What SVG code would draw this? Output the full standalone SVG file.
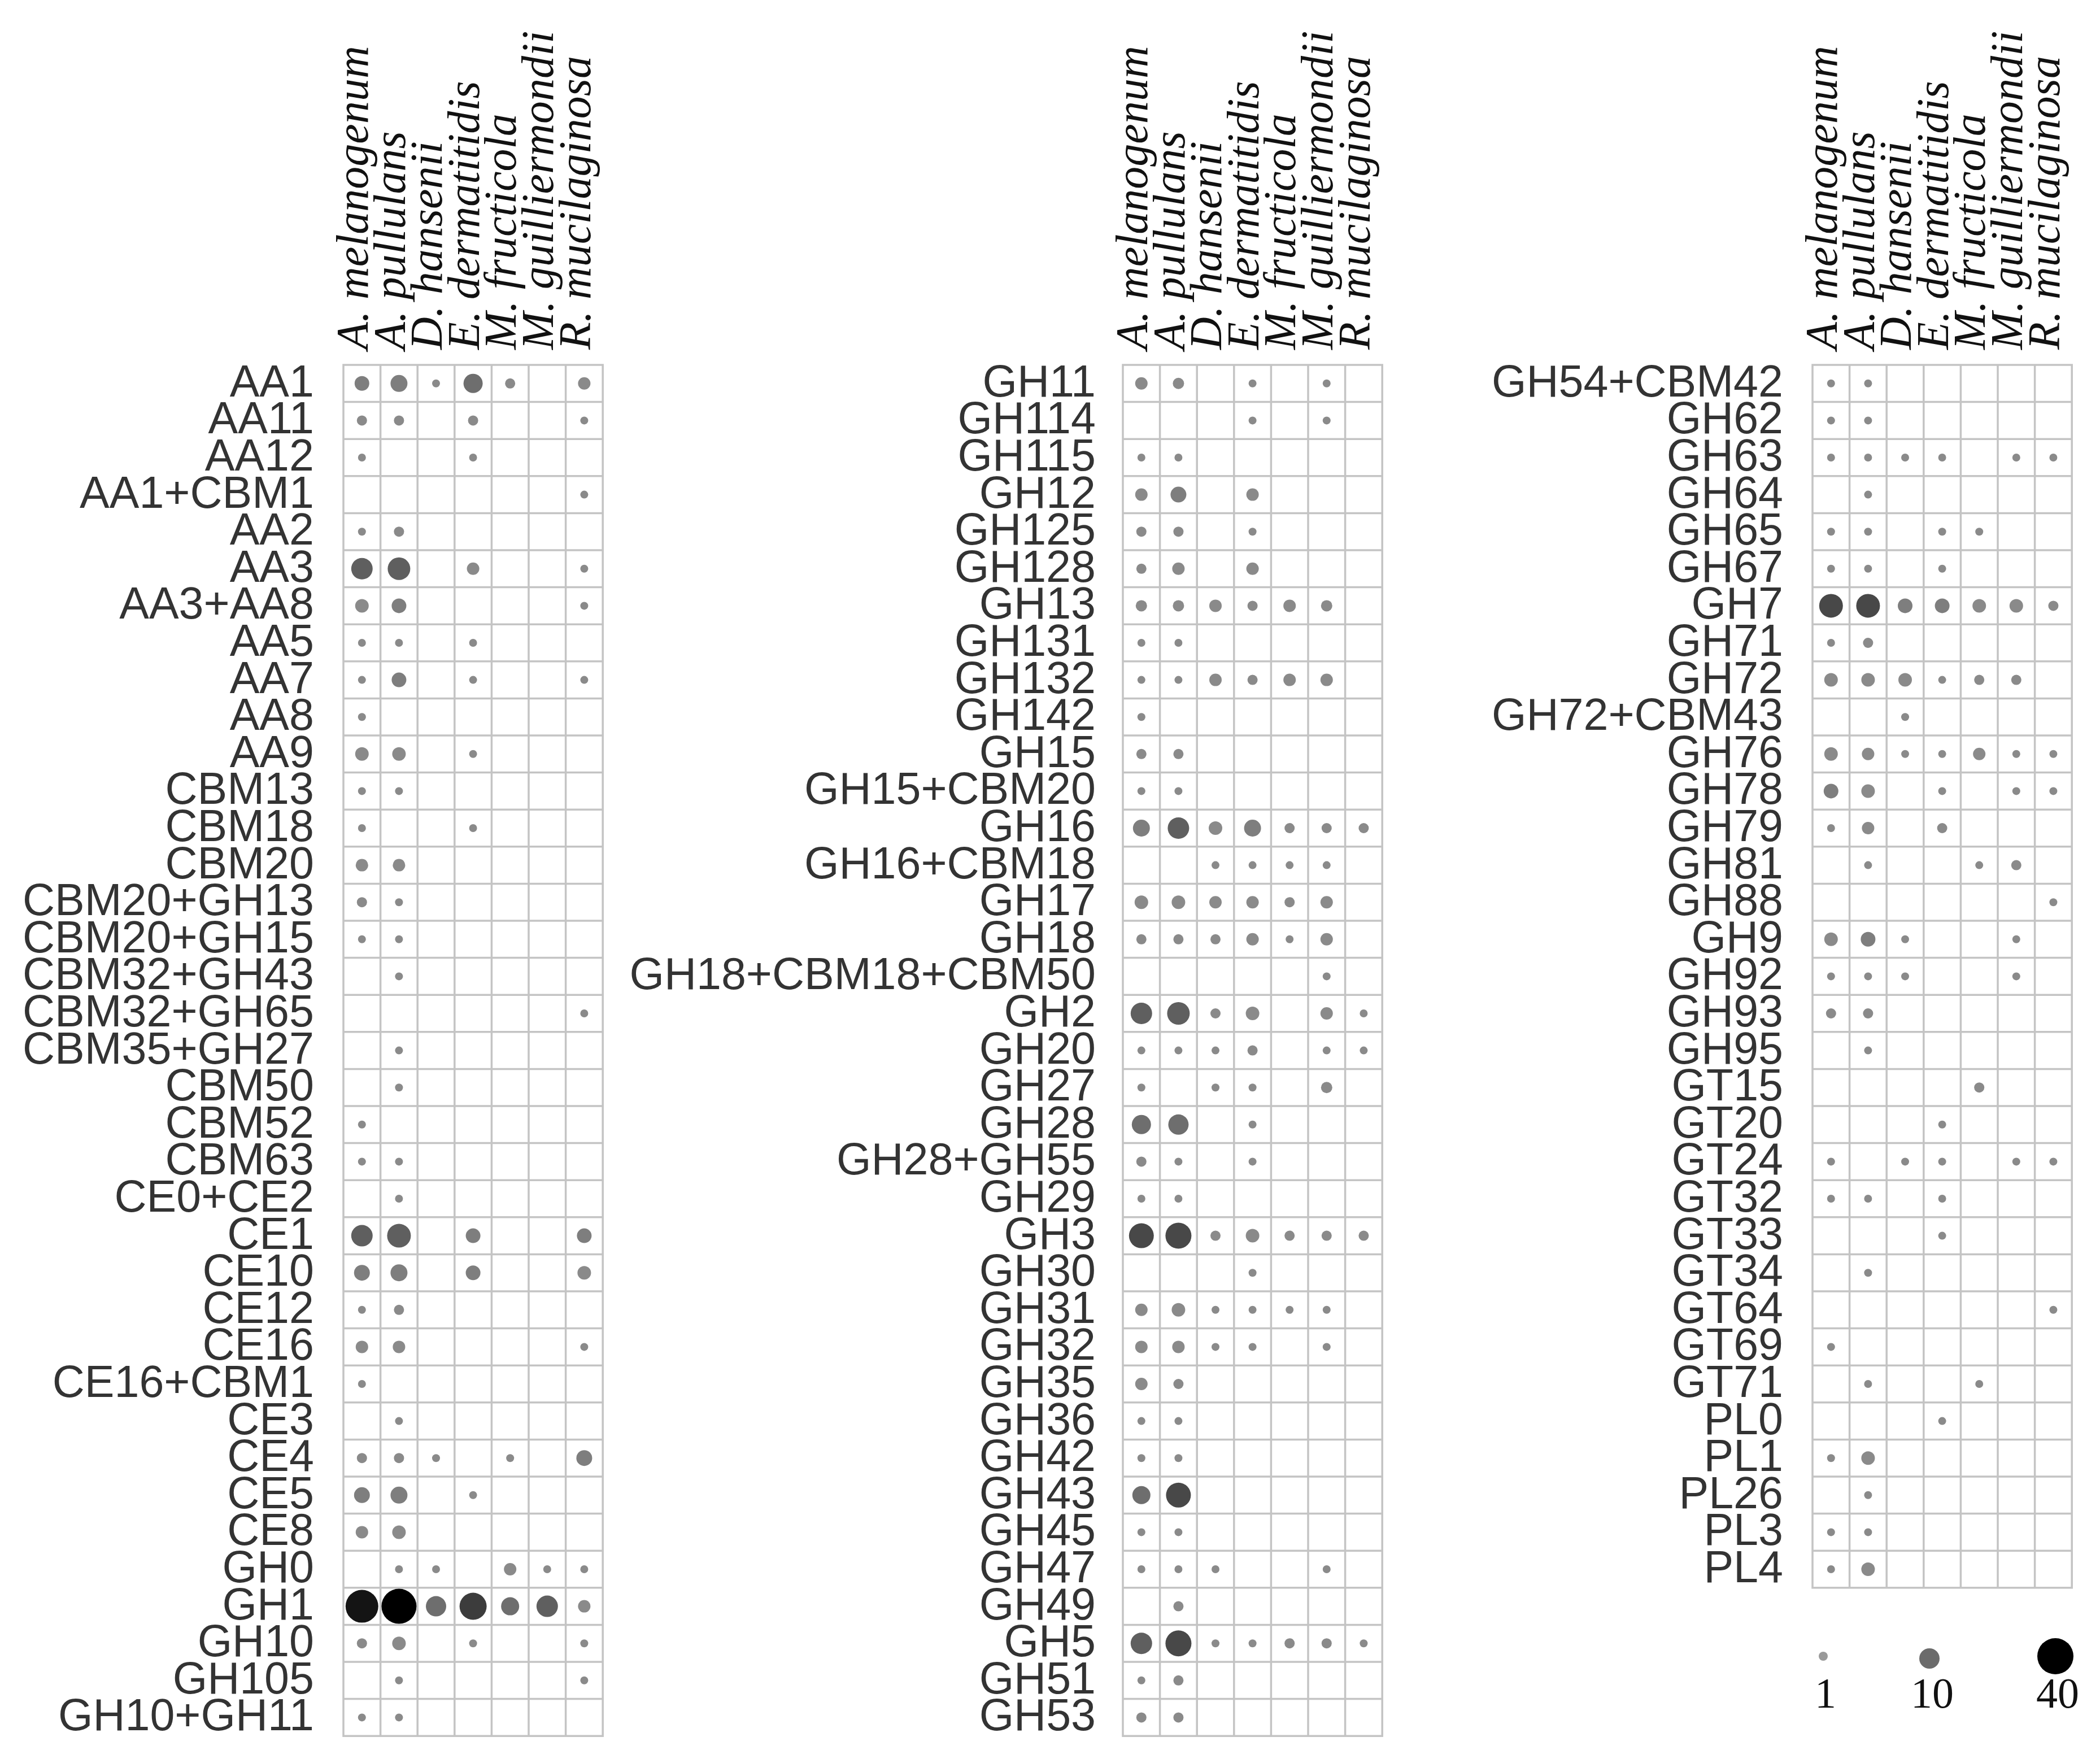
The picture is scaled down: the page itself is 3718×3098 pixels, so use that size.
<svg xmlns="http://www.w3.org/2000/svg" xmlns:xlink="http://www.w3.org/1999/xlink" width="3718" height="3098" viewBox="0 0 3718 3098">
<style>
.grid{fill:none;stroke:#c4c4c4;stroke-width:3.5}
.rl{font-family:"Liberation Sans",Arial,sans-serif;font-size:79px;fill:#333;text-anchor:end}
.cl{font-family:"Liberation Serif","Times New Roman",serif;font-style:italic;font-size:80px;fill:#111}
.lg{font-family:"Liberation Serif","Times New Roman",serif;font-size:76px;fill:#111;text-anchor:middle}
.a{fill:#8a8a8a}.b{fill:#7e7e7e}.c{fill:#6e6e6e}.d{fill:#5f5f5f}.e{fill:#484848}.f{fill:#3c3c3c}.g{fill:#141414}.h{fill:#000}
</style>
<defs>
<path id="v37" d="M65.6 0V2427.2M131.2 0V2427.2M196.8 0V2427.2M262.4 0V2427.2M328 0V2427.2M393.6 0V2427.2"/>
<path id="v33" d="M65.6 0V2164.8M131.2 0V2164.8M196.8 0V2164.8M262.4 0V2164.8M328 0V2164.8M393.6 0V2164.8"/>
<path id="h33" d="M0 65.6H459.2M0 131.2H459.2M0 196.8H459.2M0 262.4H459.2M0 328H459.2M0 393.6H459.2M0 459.2H459.2M0 524.8H459.2M0 590.4H459.2M0 656H459.2M0 721.6H459.2M0 787.2H459.2M0 852.8H459.2M0 918.4H459.2M0 984H459.2M0 1049.6H459.2M0 1115.2H459.2M0 1180.8H459.2M0 1246.4H459.2M0 1312H459.2M0 1377.6H459.2M0 1443.2H459.2M0 1508.8H459.2M0 1574.4H459.2M0 1640H459.2M0 1705.6H459.2M0 1771.2H459.2M0 1836.8H459.2M0 1902.4H459.2M0 1968H459.2M0 2033.6H459.2M0 2099.2H459.2"/>
<path id="h37x" d="M0 2164.8H459.2M0 2230.4H459.2M0 2296H459.2M0 2361.6H459.2"/>
<g id="cols">
<text class="cl" transform="translate(43,-27) rotate(-90)">A. melanogenum</text>
<text class="cl" transform="translate(108.6,-27) rotate(-90)">A. pullulans</text>
<text class="cl" transform="translate(174.2,-27) rotate(-90)">D. hansenii</text>
<text class="cl" transform="translate(239.8,-27) rotate(-90)">E. dermatitidis</text>
<text class="cl" transform="translate(305.4,-27) rotate(-90)">M. fructicola</text>
<text class="cl" transform="translate(371,-27) rotate(-90)">M. guilliermondii</text>
<text class="cl" transform="translate(436.6,-27) rotate(-90)">R. mucilaginosa</text>
</g>
</defs>

<g id="panel1" transform="translate(608,646)">
<use xlink:href="#cols"/>
<g id="grid1"><rect class="grid" x="0" y="0" width="459.2" height="2427.2"/><use class="grid" xlink:href="#v37"/><use class="grid" xlink:href="#h33"/><use class="grid" xlink:href="#h37x"/></g>
<g id="labels1">
<text class="rl" x="-52" y="55.8">AA1</text><text class="rl" x="-52" y="121.4">AA11</text><text class="rl" x="-52" y="187">AA12</text><text class="rl" x="-52" y="252.6">AA1+CBM1</text><text class="rl" x="-52" y="318.2">AA2</text><text class="rl" x="-52" y="383.8">AA3</text><text class="rl" x="-52" y="449.4">AA3+AA8</text><text class="rl" x="-52" y="515">AA5</text><text class="rl" x="-52" y="580.6">AA7</text><text class="rl" x="-52" y="646.2">AA8</text><text class="rl" x="-52" y="711.8">AA9</text><text class="rl" x="-52" y="777.4">CBM13</text><text class="rl" x="-52" y="843">CBM18</text><text class="rl" x="-52" y="908.6">CBM20</text><text class="rl" x="-52" y="974.2">CBM20+GH13</text><text class="rl" x="-52" y="1039.8">CBM20+GH15</text><text class="rl" x="-52" y="1105.4">CBM32+GH43</text><text class="rl" x="-52" y="1171">CBM32+GH65</text><text class="rl" x="-52" y="1236.6">CBM35+GH27</text><text class="rl" x="-52" y="1302.2">CBM50</text><text class="rl" x="-52" y="1367.8">CBM52</text><text class="rl" x="-52" y="1433.4">CBM63</text><text class="rl" x="-52" y="1499">CE0+CE2</text><text class="rl" x="-52" y="1564.6">CE1</text><text class="rl" x="-52" y="1630.2">CE10</text><text class="rl" x="-52" y="1695.8">CE12</text><text class="rl" x="-52" y="1761.4">CE16</text><text class="rl" x="-52" y="1827">CE16+CBM1</text><text class="rl" x="-52" y="1892.6">CE3</text><text class="rl" x="-52" y="1958.2">CE4</text><text class="rl" x="-52" y="2023.8">CE5</text><text class="rl" x="-52" y="2089.4">CE8</text><text class="rl" x="-52" y="2155">GH0</text><text class="rl" x="-52" y="2220.6">GH1</text><text class="rl" x="-52" y="2286.2">GH10</text><text class="rl" x="-52" y="2351.8">GH105</text><text class="rl" x="-52" y="2417.4">GH10+GH11</text>
</g>
<g id="dots1">
<circle class="b" cx="32.8" cy="32.8" r="13"/><circle class="b" cx="98.4" cy="32.8" r="15"/><circle class="a" cx="164" cy="32.8" r="7"/><circle class="c" cx="229.6" cy="32.8" r="17"/><circle class="a" cx="295.2" cy="32.8" r="9"/><circle class="a" cx="426.4" cy="32.8" r="11"/>
<circle class="a" cx="32.8" cy="98.4" r="9"/><circle class="a" cx="98.4" cy="98.4" r="9"/><circle class="a" cx="229.6" cy="98.4" r="9"/><circle class="a" cx="426.4" cy="98.4" r="7"/>
<circle class="a" cx="32.8" cy="164" r="7"/><circle class="a" cx="229.6" cy="164" r="7"/>
<circle class="a" cx="426.4" cy="229.6" r="7"/>
<circle class="a" cx="32.8" cy="295.2" r="7"/><circle class="a" cx="98.4" cy="295.2" r="9"/>
<circle class="d" cx="32.8" cy="360.8" r="19"/><circle class="d" cx="98.4" cy="360.8" r="20"/><circle class="a" cx="229.6" cy="360.8" r="11"/><circle class="a" cx="426.4" cy="360.8" r="7"/>
<circle class="a" cx="32.8" cy="426.4" r="12"/><circle class="b" cx="98.4" cy="426.4" r="13"/><circle class="a" cx="426.4" cy="426.4" r="7"/>
<circle class="a" cx="32.8" cy="492" r="7"/><circle class="a" cx="98.4" cy="492" r="7"/><circle class="a" cx="229.6" cy="492" r="7"/>
<circle class="a" cx="32.8" cy="557.6" r="7"/><circle class="b" cx="98.4" cy="557.6" r="13"/><circle class="a" cx="229.6" cy="557.6" r="7"/><circle class="a" cx="426.4" cy="557.6" r="7"/>
<circle class="a" cx="32.8" cy="623.2" r="7"/>
<circle class="a" cx="32.8" cy="688.8" r="12"/><circle class="a" cx="98.4" cy="688.8" r="12"/><circle class="a" cx="229.6" cy="688.8" r="7"/>
<circle class="a" cx="32.8" cy="754.4" r="7"/><circle class="a" cx="98.4" cy="754.4" r="7"/>
<circle class="a" cx="32.8" cy="820" r="7"/><circle class="a" cx="229.6" cy="820" r="7"/>
<circle class="a" cx="32.8" cy="885.6" r="11"/><circle class="a" cx="98.4" cy="885.6" r="11"/>
<circle class="a" cx="32.8" cy="951.2" r="9"/><circle class="a" cx="98.4" cy="951.2" r="7"/>
<circle class="a" cx="32.8" cy="1016.8" r="7"/><circle class="a" cx="98.4" cy="1016.8" r="7"/>
<circle class="a" cx="98.4" cy="1082.4" r="7"/>
<circle class="a" cx="426.4" cy="1148" r="7"/>
<circle class="a" cx="98.4" cy="1213.6" r="7"/>
<circle class="a" cx="98.4" cy="1279.2" r="7"/>
<circle class="a" cx="32.8" cy="1344.8" r="7"/>
<circle class="a" cx="32.8" cy="1410.4" r="7"/><circle class="a" cx="98.4" cy="1410.4" r="7"/>
<circle class="a" cx="98.4" cy="1476" r="7"/>
<circle class="d" cx="32.8" cy="1541.6" r="19"/><circle class="d" cx="98.4" cy="1541.6" r="21"/><circle class="b" cx="229.6" cy="1541.6" r="13"/><circle class="b" cx="426.4" cy="1541.6" r="13"/>
<circle class="b" cx="32.8" cy="1607.2" r="14"/><circle class="b" cx="98.4" cy="1607.2" r="15"/><circle class="b" cx="229.6" cy="1607.2" r="13"/><circle class="a" cx="426.4" cy="1607.2" r="12"/>
<circle class="a" cx="32.8" cy="1672.8" r="7"/><circle class="a" cx="98.4" cy="1672.8" r="9"/>
<circle class="a" cx="32.8" cy="1738.4" r="11"/><circle class="a" cx="98.4" cy="1738.4" r="11"/><circle class="a" cx="426.4" cy="1738.4" r="7"/>
<circle class="a" cx="32.8" cy="1804" r="7"/>
<circle class="a" cx="98.4" cy="1869.6" r="7"/>
<circle class="a" cx="32.8" cy="1935.2" r="9"/><circle class="a" cx="98.4" cy="1935.2" r="9"/><circle class="a" cx="164" cy="1935.2" r="7"/><circle class="a" cx="295.2" cy="1935.2" r="7"/><circle class="b" cx="426.4" cy="1935.2" r="14"/>
<circle class="b" cx="32.8" cy="2000.8" r="14"/><circle class="b" cx="98.4" cy="2000.8" r="15"/><circle class="a" cx="229.6" cy="2000.8" r="7"/>
<circle class="a" cx="32.8" cy="2066.4" r="11"/><circle class="a" cx="98.4" cy="2066.4" r="12"/>
<circle class="a" cx="98.4" cy="2132" r="7"/><circle class="a" cx="164" cy="2132" r="7"/><circle class="a" cx="295.2" cy="2132" r="11"/><circle class="a" cx="360.8" cy="2132" r="7"/><circle class="a" cx="426.4" cy="2132" r="7"/>
<circle class="g" cx="32.8" cy="2197.6" r="29"/><circle class="h" cx="98.4" cy="2197.6" r="31"/><circle class="c" cx="164" cy="2197.6" r="18"/><circle class="f" cx="229.6" cy="2197.6" r="24"/><circle class="c" cx="295.2" cy="2197.6" r="16"/><circle class="d" cx="360.8" cy="2197.6" r="19"/><circle class="a" cx="426.4" cy="2197.6" r="11"/>
<circle class="a" cx="32.8" cy="2263.2" r="9"/><circle class="a" cx="98.4" cy="2263.2" r="12"/><circle class="a" cx="229.6" cy="2263.2" r="7"/><circle class="a" cx="426.4" cy="2263.2" r="7"/>
<circle class="a" cx="98.4" cy="2328.8" r="7"/><circle class="a" cx="426.4" cy="2328.8" r="7"/>
<circle class="a" cx="32.8" cy="2394.4" r="7"/><circle class="a" cx="98.4" cy="2394.4" r="7"/>
</g>
</g>

<g id="panel2" transform="translate(1988,646)">
<use xlink:href="#cols"/>
<g id="grid2"><rect class="grid" x="0" y="0" width="459.2" height="2427.2"/><use class="grid" xlink:href="#v37"/><use class="grid" xlink:href="#h33"/><use class="grid" xlink:href="#h37x"/></g>
<g id="labels2">
<text class="rl" x="-48" y="55.8">GH11</text><text class="rl" x="-48" y="121.4">GH114</text><text class="rl" x="-48" y="187">GH115</text><text class="rl" x="-48" y="252.6">GH12</text><text class="rl" x="-48" y="318.2">GH125</text><text class="rl" x="-48" y="383.8">GH128</text><text class="rl" x="-48" y="449.4">GH13</text><text class="rl" x="-48" y="515">GH131</text><text class="rl" x="-48" y="580.6">GH132</text><text class="rl" x="-48" y="646.2">GH142</text><text class="rl" x="-48" y="711.8">GH15</text><text class="rl" x="-48" y="777.4">GH15+CBM20</text><text class="rl" x="-48" y="843">GH16</text><text class="rl" x="-48" y="908.6">GH16+CBM18</text><text class="rl" x="-48" y="974.2">GH17</text><text class="rl" x="-48" y="1039.8">GH18</text><text class="rl" x="-48" y="1105.4">GH18+CBM18+CBM50</text><text class="rl" x="-48" y="1171">GH2</text><text class="rl" x="-48" y="1236.6">GH20</text><text class="rl" x="-48" y="1302.2">GH27</text><text class="rl" x="-48" y="1367.8">GH28</text><text class="rl" x="-48" y="1433.4">GH28+GH55</text><text class="rl" x="-48" y="1499">GH29</text><text class="rl" x="-48" y="1564.6">GH3</text><text class="rl" x="-48" y="1630.2">GH30</text><text class="rl" x="-48" y="1695.8">GH31</text><text class="rl" x="-48" y="1761.4">GH32</text><text class="rl" x="-48" y="1827">GH35</text><text class="rl" x="-48" y="1892.6">GH36</text><text class="rl" x="-48" y="1958.2">GH42</text><text class="rl" x="-48" y="2023.8">GH43</text><text class="rl" x="-48" y="2089.4">GH45</text><text class="rl" x="-48" y="2155">GH47</text><text class="rl" x="-48" y="2220.6">GH49</text><text class="rl" x="-48" y="2286.2">GH5</text><text class="rl" x="-48" y="2351.8">GH51</text><text class="rl" x="-48" y="2417.4">GH53</text>
</g>
<g id="dots2">
<circle class="a" cx="32.8" cy="32.8" r="11"/><circle class="a" cx="98.4" cy="32.8" r="10"/><circle class="a" cx="229.6" cy="32.8" r="7"/><circle class="a" cx="360.8" cy="32.8" r="7"/>
<circle class="a" cx="229.6" cy="98.4" r="7"/><circle class="a" cx="360.8" cy="98.4" r="7"/>
<circle class="a" cx="32.8" cy="164" r="7"/><circle class="a" cx="98.4" cy="164" r="7"/>
<circle class="a" cx="32.8" cy="229.6" r="11"/><circle class="b" cx="98.4" cy="229.6" r="14"/><circle class="a" cx="229.6" cy="229.6" r="11"/>
<circle class="a" cx="32.8" cy="295.2" r="9"/><circle class="a" cx="98.4" cy="295.2" r="9"/><circle class="a" cx="229.6" cy="295.2" r="7"/>
<circle class="a" cx="32.8" cy="360.8" r="9"/><circle class="a" cx="98.4" cy="360.8" r="11"/><circle class="a" cx="229.6" cy="360.8" r="11"/>
<circle class="a" cx="32.8" cy="426.4" r="10"/><circle class="a" cx="98.4" cy="426.4" r="10"/><circle class="a" cx="164" cy="426.4" r="11"/><circle class="a" cx="229.6" cy="426.4" r="9"/><circle class="a" cx="295.2" cy="426.4" r="11"/><circle class="a" cx="360.8" cy="426.4" r="10"/>
<circle class="a" cx="32.8" cy="492" r="7"/><circle class="a" cx="98.4" cy="492" r="7"/>
<circle class="a" cx="32.8" cy="557.6" r="7"/><circle class="a" cx="98.4" cy="557.6" r="7"/><circle class="a" cx="164" cy="557.6" r="11"/><circle class="a" cx="229.6" cy="557.6" r="9"/><circle class="a" cx="295.2" cy="557.6" r="11"/><circle class="a" cx="360.8" cy="557.6" r="11"/>
<circle class="a" cx="32.8" cy="623.2" r="7"/>
<circle class="a" cx="32.8" cy="688.8" r="9"/><circle class="a" cx="98.4" cy="688.8" r="9"/>
<circle class="a" cx="32.8" cy="754.4" r="7"/><circle class="a" cx="98.4" cy="754.4" r="7"/>
<circle class="b" cx="32.8" cy="820" r="15"/><circle class="d" cx="98.4" cy="820" r="19"/><circle class="a" cx="164" cy="820" r="12"/><circle class="b" cx="229.6" cy="820" r="15"/><circle class="a" cx="295.2" cy="820" r="9"/><circle class="a" cx="360.8" cy="820" r="9"/><circle class="a" cx="426.4" cy="820" r="9"/>
<circle class="a" cx="164" cy="885.6" r="7"/><circle class="a" cx="229.6" cy="885.6" r="7"/><circle class="a" cx="295.2" cy="885.6" r="7"/><circle class="a" cx="360.8" cy="885.6" r="7"/>
<circle class="a" cx="32.8" cy="951.2" r="12"/><circle class="a" cx="98.4" cy="951.2" r="12"/><circle class="a" cx="164" cy="951.2" r="11"/><circle class="a" cx="229.6" cy="951.2" r="11"/><circle class="a" cx="295.2" cy="951.2" r="9"/><circle class="a" cx="360.8" cy="951.2" r="11"/>
<circle class="a" cx="32.8" cy="1016.8" r="9"/><circle class="a" cx="98.4" cy="1016.8" r="9"/><circle class="a" cx="164" cy="1016.8" r="9"/><circle class="a" cx="229.6" cy="1016.8" r="11"/><circle class="a" cx="295.2" cy="1016.8" r="7"/><circle class="a" cx="360.8" cy="1016.8" r="11"/>
<circle class="a" cx="360.8" cy="1082.4" r="7"/>
<circle class="d" cx="32.8" cy="1148" r="19"/><circle class="d" cx="98.4" cy="1148" r="20"/><circle class="a" cx="164" cy="1148" r="9"/><circle class="a" cx="229.6" cy="1148" r="12"/><circle class="a" cx="360.8" cy="1148" r="11"/><circle class="a" cx="426.4" cy="1148" r="7"/>
<circle class="a" cx="32.8" cy="1213.6" r="7"/><circle class="a" cx="98.4" cy="1213.6" r="7"/><circle class="a" cx="164" cy="1213.6" r="7"/><circle class="a" cx="229.6" cy="1213.6" r="9"/><circle class="a" cx="360.8" cy="1213.6" r="7"/><circle class="a" cx="426.4" cy="1213.6" r="7"/>
<circle class="a" cx="32.8" cy="1279.2" r="7"/><circle class="a" cx="164" cy="1279.2" r="7"/><circle class="a" cx="229.6" cy="1279.2" r="7"/><circle class="a" cx="360.8" cy="1279.2" r="10"/>
<circle class="c" cx="32.8" cy="1344.8" r="17"/><circle class="c" cx="98.4" cy="1344.8" r="18"/><circle class="a" cx="229.6" cy="1344.8" r="7"/>
<circle class="a" cx="32.8" cy="1410.4" r="9"/><circle class="a" cx="98.4" cy="1410.4" r="7"/><circle class="a" cx="229.6" cy="1410.4" r="7"/>
<circle class="a" cx="32.8" cy="1476" r="7"/><circle class="a" cx="98.4" cy="1476" r="7"/>
<circle class="e" cx="32.8" cy="1541.6" r="22"/><circle class="e" cx="98.4" cy="1541.6" r="23"/><circle class="a" cx="164" cy="1541.6" r="9"/><circle class="a" cx="229.6" cy="1541.6" r="12"/><circle class="a" cx="295.2" cy="1541.6" r="9"/><circle class="a" cx="360.8" cy="1541.6" r="9"/><circle class="a" cx="426.4" cy="1541.6" r="9"/>
<circle class="a" cx="229.6" cy="1607.2" r="7"/>
<circle class="a" cx="32.8" cy="1672.8" r="11"/><circle class="a" cx="98.4" cy="1672.8" r="12"/><circle class="a" cx="164" cy="1672.8" r="7"/><circle class="a" cx="229.6" cy="1672.8" r="7"/><circle class="a" cx="295.2" cy="1672.8" r="7"/><circle class="a" cx="360.8" cy="1672.8" r="7"/>
<circle class="a" cx="32.8" cy="1738.4" r="11"/><circle class="a" cx="98.4" cy="1738.4" r="11"/><circle class="a" cx="164" cy="1738.4" r="7"/><circle class="a" cx="229.6" cy="1738.4" r="7"/><circle class="a" cx="360.8" cy="1738.4" r="7"/>
<circle class="a" cx="32.8" cy="1804" r="11"/><circle class="a" cx="98.4" cy="1804" r="9"/>
<circle class="a" cx="32.8" cy="1869.6" r="7"/><circle class="a" cx="98.4" cy="1869.6" r="7"/>
<circle class="a" cx="32.8" cy="1935.2" r="7"/><circle class="a" cx="98.4" cy="1935.2" r="7"/>
<circle class="c" cx="32.8" cy="2000.8" r="16"/><circle class="e" cx="98.4" cy="2000.8" r="22"/>
<circle class="a" cx="32.8" cy="2066.4" r="7"/><circle class="a" cx="98.4" cy="2066.4" r="7"/>
<circle class="a" cx="32.8" cy="2132" r="7"/><circle class="a" cx="98.4" cy="2132" r="7"/><circle class="a" cx="164" cy="2132" r="7"/><circle class="a" cx="360.8" cy="2132" r="7"/>
<circle class="a" cx="98.4" cy="2197.6" r="9"/>
<circle class="d" cx="32.8" cy="2263.2" r="19"/><circle class="e" cx="98.4" cy="2263.2" r="23"/><circle class="a" cx="164" cy="2263.2" r="7"/><circle class="a" cx="229.6" cy="2263.2" r="7"/><circle class="a" cx="295.2" cy="2263.2" r="9"/><circle class="a" cx="360.8" cy="2263.2" r="9"/><circle class="a" cx="426.4" cy="2263.2" r="7"/>
<circle class="a" cx="32.8" cy="2328.8" r="7"/><circle class="a" cx="98.4" cy="2328.8" r="9"/>
<circle class="a" cx="32.8" cy="2394.4" r="9"/><circle class="a" cx="98.4" cy="2394.4" r="9"/>
</g>
</g>

<g id="panel3" transform="translate(3209,646)">
<use xlink:href="#cols"/>
<g id="grid3"><rect class="grid" x="0" y="0" width="459.2" height="2164.8"/><use class="grid" xlink:href="#v33"/><use class="grid" xlink:href="#h33"/></g>
<g id="labels3">
<text class="rl" x="-52" y="55.8">GH54+CBM42</text><text class="rl" x="-52" y="121.4">GH62</text><text class="rl" x="-52" y="187">GH63</text><text class="rl" x="-52" y="252.6">GH64</text><text class="rl" x="-52" y="318.2">GH65</text><text class="rl" x="-52" y="383.8">GH67</text><text class="rl" x="-52" y="449.4">GH7</text><text class="rl" x="-52" y="515">GH71</text><text class="rl" x="-52" y="580.6">GH72</text><text class="rl" x="-52" y="646.2">GH72+CBM43</text><text class="rl" x="-52" y="711.8">GH76</text><text class="rl" x="-52" y="777.4">GH78</text><text class="rl" x="-52" y="843">GH79</text><text class="rl" x="-52" y="908.6">GH81</text><text class="rl" x="-52" y="974.2">GH88</text><text class="rl" x="-52" y="1039.8">GH9</text><text class="rl" x="-52" y="1105.4">GH92</text><text class="rl" x="-52" y="1171">GH93</text><text class="rl" x="-52" y="1236.6">GH95</text><text class="rl" x="-52" y="1302.2">GT15</text><text class="rl" x="-52" y="1367.8">GT20</text><text class="rl" x="-52" y="1433.4">GT24</text><text class="rl" x="-52" y="1499">GT32</text><text class="rl" x="-52" y="1564.6">GT33</text><text class="rl" x="-52" y="1630.2">GT34</text><text class="rl" x="-52" y="1695.8">GT64</text><text class="rl" x="-52" y="1761.4">GT69</text><text class="rl" x="-52" y="1827">GT71</text><text class="rl" x="-52" y="1892.6">PL0</text><text class="rl" x="-52" y="1958.2">PL1</text><text class="rl" x="-52" y="2023.8">PL26</text><text class="rl" x="-52" y="2089.4">PL3</text><text class="rl" x="-52" y="2155">PL4</text>
</g>
<g id="dots3">
<circle class="a" cx="32.8" cy="32.8" r="7"/><circle class="a" cx="98.4" cy="32.8" r="7"/>
<circle class="a" cx="32.8" cy="98.4" r="7"/><circle class="a" cx="98.4" cy="98.4" r="7"/>
<circle class="a" cx="32.8" cy="164" r="7"/><circle class="a" cx="98.4" cy="164" r="7"/><circle class="a" cx="164" cy="164" r="7"/><circle class="a" cx="229.6" cy="164" r="7"/><circle class="a" cx="360.8" cy="164" r="7"/><circle class="a" cx="426.4" cy="164" r="7"/>
<circle class="a" cx="98.4" cy="229.6" r="7"/>
<circle class="a" cx="32.8" cy="295.2" r="7"/><circle class="a" cx="98.4" cy="295.2" r="7"/><circle class="a" cx="229.6" cy="295.2" r="7"/><circle class="a" cx="295.2" cy="295.2" r="7"/>
<circle class="a" cx="32.8" cy="360.8" r="7"/><circle class="a" cx="98.4" cy="360.8" r="7"/><circle class="a" cx="229.6" cy="360.8" r="7"/>
<circle class="e" cx="32.8" cy="426.4" r="21"/><circle class="e" cx="98.4" cy="426.4" r="21"/><circle class="b" cx="164" cy="426.4" r="13"/><circle class="b" cx="229.6" cy="426.4" r="13"/><circle class="a" cx="295.2" cy="426.4" r="12"/><circle class="a" cx="360.8" cy="426.4" r="12"/><circle class="a" cx="426.4" cy="426.4" r="9"/>
<circle class="a" cx="32.8" cy="492" r="7"/><circle class="a" cx="98.4" cy="492" r="9"/>
<circle class="a" cx="32.8" cy="557.6" r="12"/><circle class="a" cx="98.4" cy="557.6" r="12"/><circle class="a" cx="164" cy="557.6" r="12"/><circle class="a" cx="229.6" cy="557.6" r="7"/><circle class="a" cx="295.2" cy="557.6" r="9"/><circle class="a" cx="360.8" cy="557.6" r="9"/>
<circle class="a" cx="164" cy="623.2" r="7"/>
<circle class="a" cx="32.8" cy="688.8" r="12"/><circle class="a" cx="98.4" cy="688.8" r="11"/><circle class="a" cx="164" cy="688.8" r="7"/><circle class="a" cx="229.6" cy="688.8" r="7"/><circle class="a" cx="295.2" cy="688.8" r="11"/><circle class="a" cx="360.8" cy="688.8" r="7"/><circle class="a" cx="426.4" cy="688.8" r="7"/>
<circle class="b" cx="32.8" cy="754.4" r="13"/><circle class="a" cx="98.4" cy="754.4" r="12"/><circle class="a" cx="229.6" cy="754.4" r="7"/><circle class="a" cx="360.8" cy="754.4" r="7"/><circle class="a" cx="426.4" cy="754.4" r="7"/>
<circle class="a" cx="32.8" cy="820" r="7"/><circle class="a" cx="98.4" cy="820" r="11"/><circle class="a" cx="229.6" cy="820" r="9"/>
<circle class="a" cx="98.4" cy="885.6" r="7"/><circle class="a" cx="295.2" cy="885.6" r="7"/><circle class="a" cx="360.8" cy="885.6" r="9"/>
<circle class="a" cx="426.4" cy="951.2" r="7"/>
<circle class="a" cx="32.8" cy="1016.8" r="12"/><circle class="b" cx="98.4" cy="1016.8" r="13"/><circle class="a" cx="164" cy="1016.8" r="7"/><circle class="a" cx="360.8" cy="1016.8" r="7"/>
<circle class="a" cx="32.8" cy="1082.4" r="7"/><circle class="a" cx="98.4" cy="1082.4" r="7"/><circle class="a" cx="164" cy="1082.4" r="7"/><circle class="a" cx="360.8" cy="1082.4" r="7"/>
<circle class="a" cx="32.8" cy="1148" r="9"/><circle class="a" cx="98.4" cy="1148" r="9"/>
<circle class="a" cx="98.4" cy="1213.6" r="7"/>
<circle class="a" cx="295.2" cy="1279.2" r="9"/>
<circle class="a" cx="229.6" cy="1344.8" r="7"/>
<circle class="a" cx="32.8" cy="1410.4" r="7"/><circle class="a" cx="164" cy="1410.4" r="7"/><circle class="a" cx="229.6" cy="1410.4" r="7"/><circle class="a" cx="360.8" cy="1410.4" r="7"/><circle class="a" cx="426.4" cy="1410.4" r="7"/>
<circle class="a" cx="32.8" cy="1476" r="7"/><circle class="a" cx="98.4" cy="1476" r="7"/><circle class="a" cx="229.6" cy="1476" r="7"/>
<circle class="a" cx="229.6" cy="1541.6" r="7"/>
<circle class="a" cx="98.4" cy="1607.2" r="7"/>
<circle class="a" cx="426.4" cy="1672.8" r="7"/>
<circle class="a" cx="32.8" cy="1738.4" r="7"/>
<circle class="a" cx="98.4" cy="1804" r="7"/><circle class="a" cx="295.2" cy="1804" r="7"/>
<circle class="a" cx="229.6" cy="1869.6" r="7"/>
<circle class="a" cx="32.8" cy="1935.2" r="7"/><circle class="a" cx="98.4" cy="1935.2" r="12"/>
<circle class="a" cx="98.4" cy="2000.8" r="7"/>
<circle class="a" cx="32.8" cy="2066.4" r="7"/><circle class="a" cx="98.4" cy="2066.4" r="7"/>
<circle class="a" cx="32.8" cy="2132" r="7"/><circle class="a" cx="98.4" cy="2132" r="12"/>
</g>
</g>

<g id="legend">
<circle cx="3228" cy="2932" r="8" fill="#9a9a9a"/>
<circle cx="3416" cy="2936" r="18" fill="#6b6b6b"/>
<circle cx="3639" cy="2932" r="32" fill="#000"/>
<text class="lg" x="3232" y="3023">1</text>
<text class="lg" x="3421" y="3023">10</text>
<text class="lg" x="3643" y="3023">40</text>
</g>
</svg>
